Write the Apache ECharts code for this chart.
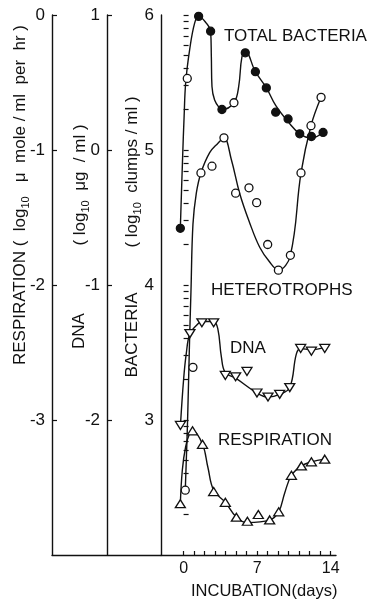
<!DOCTYPE html>
<html><head><meta charset="utf-8">
<script src="https://cdn.jsdelivr.net/npm/echarts@6/dist/echarts.min.js"></script>
<style>html,body{margin:0;padding:0;background:#fff}#c{width:374px;height:604px}</style>
</head><body><div id="c"></div>
<script>
// ---- data (days, log10 values) ----
const xTickDays = [0,1,2,3,4,5,6,7,8,9,10,11,12,13,14];
const xLabelDays = [0,7,14];
const bactLabels = [3,4,5,6];
const dnaLabels = [-2,-1,0,1];
const respLabels = [-3,-2,-1,0];

// Total bacteria (log10 clumps/ml)
const totalFilled = [[-0.31,4.42],[1.43,5.99],[2.57,5.88],[3.65,5.30],[5.87,5.72],[6.83,5.58],[7.87,5.46],[8.76,5.28],[9.94,5.23],[11.05,5.12],[12.16,5.10],[13.27,5.13]];
const totalOpen = [[0.35,5.53],[4.79,5.35]];
const totalCurve = [[-0.31,4.42],[-0.1,4.93],[0.05,5.25],[0.2,5.5],[0.57,5.74],[1.05,5.94],[1.43,5.99],[2.16,5.94],[2.57,5.88],[2.64,5.69],[2.70,5.47],[2.95,5.37],[3.43,5.31],[3.65,5.30],[4.79,5.35],[5.24,5.47],[5.55,5.69],[5.88,5.73],[6.83,5.58],[7.88,5.46],[8.76,5.33],[9.93,5.21],[11.05,5.12],[12.16,5.09],[13.27,5.13]];

// Heterotrophs (log10 clumps/ml)
const hetPoints = [[0.16,2.48],[0.89,3.39],[1.65,4.83],[2.70,4.88],[3.84,5.09],[4.95,4.68],[6.22,4.72],[6.95,4.61],[8.0,4.30],[9.02,4.11],[10.16,4.22],[11.17,4.83],[12.12,5.18],[13.08,5.39]];
const hetCurve = [[0.16,2.48],[0.38,3.0],[0.57,3.6],[0.7,3.95],[0.89,4.45],[1.21,4.68],[1.65,4.83],[2.48,4.98],[3.27,5.05],[3.84,5.09],[4.54,4.93],[5.33,4.68],[6.29,4.46],[7.24,4.28],[8.19,4.17],[9.02,4.11],[10.16,4.22],[11.17,4.83],[12.12,5.18],[13.08,5.39]];

// DNA (log10 ug/ml)
const dnaPoints = [[-0.3,-2.04],[0.6,-1.36],[1.74,-1.28],[2.86,-1.28],[3.97,-1.67],[4.95,-1.68],[6.03,-1.64],[6.98,-1.80],[8.03,-1.83],[9.14,-1.81],[10.1,-1.76],[11.14,-1.47],[12.16,-1.49],[13.43,-1.47]];
const dnaCurve = [[-0.3,-2.04],[0.0,-1.70],[0.25,-1.51],[0.6,-1.36],[1.21,-1.30],[1.74,-1.27],[2.86,-1.27],[3.27,-1.33],[3.59,-1.53],[3.97,-1.65],[4.95,-1.69],[6.98,-1.80],[8.03,-1.83],[9.14,-1.81],[10.1,-1.76],[10.73,-1.51],[11.14,-1.47],[12.16,-1.48],[13.43,-1.46]];

// Respiration (log10 umole/ml per hr)
const respPoints = [[-0.31,-3.62],[0.85,-3.08],[1.8,-3.18],[2.86,-3.53],[3.97,-3.61],[5.02,-3.72],[6.07,-3.75],[7.11,-3.70],[8.19,-3.74],[9.05,-3.68],[10.26,-3.41],[11.21,-3.34],[12.16,-3.31],[13.43,-3.29]];
const respCurve = [[-0.31,-3.62],[-0.12,-3.37],[0.19,-3.20],[0.57,-3.10],[0.85,-3.08],[1.8,-3.18],[2.31,-3.35],[2.86,-3.52],[3.97,-3.61],[5.02,-3.72],[6.07,-3.76],[8.19,-3.74],[9.05,-3.68],[9.62,-3.54],[10.26,-3.41],[11.21,-3.34],[12.16,-3.31],[13.43,-3.29]];

// log minor ticks for bacteria axis (plus the decade ticks)
const bactMinor = [];
[2,3,4,5].forEach(d => { for (let k = 2; k <= 9; k++) bactMinor.push(d + Math.log10(k)); });
const bactTicks = bactMinor.concat(bactLabels);

const FONT = 'Liberation Sans';
const INK = '#111';
const lineSt = () => ({show: true, onZero: false, lineStyle: {color: INK, width: 1.4}});

function yAx(min, max, labels, offset) {
  return {
    type: 'value', gridIndex: 0, position: 'left', offset: offset, min: min, max: max, interval: 1,
    axisLine: lineSt(),
    axisTick: {show: false},
    axisLabel: {show: true, color: INK, fontFamily: FONT, fontSize: 17, margin: 7,
      formatter: v => labels.indexOf(v) >= 0 ? String(v) : ''},
    splitLine: {show: false}
  };
}
function tickAx(min, max, ticks, offset) {
  return {
    type: 'value', gridIndex: 0, position: 'left', offset: offset, min: min, max: max, interval: 1,
    axisLine: {show: false}, axisLabel: {show: false}, splitLine: {show: false},
    axisTick: {show: true, inside: true, length: 5, customValues: ticks, lineStyle: {color: INK, width: 1.2}}
  };
}

const curveLine = (data, yi) => ({
  type: 'line', xAxisIndex: 0, yAxisIndex: yi, data: data, smooth: 0.4, showSymbol: false, silent: true,
  lineStyle: {color: INK, width: 1.4}, z: 2
});
const marks = (data, yi, symbol, size, filled, rotate) => ({
  type: 'scatter', xAxisIndex: 0, yAxisIndex: yi, data: data, symbol: symbol, symbolSize: size,
  symbolRotate: rotate || 0, silent: true, z: 3,
  itemStyle: {color: filled ? INK : '#fff', borderColor: INK, borderWidth: 1.3, opacity: 1}
});

const subRich = {sub: {fontSize: 11, fontFamily: FONT, lineHeight: 12, verticalAlign: 'bottom', fill: INK}, n: {fontSize: 17, fontFamily: FONT, lineHeight: 22, fill: INK}};
function vtext(x, y, txt) {
  return {type: 'text', x: x, y: y, rotation: Math.PI / 2, silent: true,
    style: {text: txt, rich: subRich, fontSize: 17, fontFamily: FONT, fill: INK, align: 'center', verticalAlign: 'middle'}};
}
function htext(x, y, txt, size) {
  return {type: 'text', x: x, y: y, silent: true,
    style: {text: txt, fontSize: size || 17, fontFamily: FONT, fill: INK, align: 'left', verticalAlign: 'middle'}};
}

const chart = echarts.init(document.getElementById('c'), null, {renderer: 'canvas'});
chart.setOption({
  animation: false,
  backgroundColor: '#fff',
  grid: [
    {left: 161, top: 15, width: 175, height: 540, containLabel: false},
    {left: 52, top: 15, width: 109, height: 540, containLabel: false}
  ],
  xAxis: [
    {type: 'value', gridIndex: 0, min: -2.15, max: 14.5,
      axisLine: lineSt(),
      axisTick: {show: true, inside: true, length: 4, customValues: xTickDays, lineStyle: {color: INK, width: 1.2}},
      axisLabel: {show: true, customValues: xLabelDays, color: INK, fontFamily: FONT, fontSize: 16, margin: 6},
      splitLine: {show: false}},
    {type: 'value', gridIndex: 1, min: 0, max: 1, axisLine: lineSt(),
      axisTick: {show: false}, axisLabel: {show: false}, splitLine: {show: false}}
  ],
  yAxis: [
    yAx(2, 6, bactLabels, 0),
    yAx(-3, 1, dnaLabels, 54),
    yAx(-4, 0, respLabels, 109),
    tickAx(2, 6, bactTicks, 0),
    {type: 'value', gridIndex: 1, show: false, min: 0, max: 1},
    tickAx(-3, 1, dnaLabels, 54),
    tickAx(-4, 0, respLabels, 109)
  ],
  series: [
    curveLine(totalCurve, 0),
    curveLine(hetCurve, 0),
    curveLine(dnaCurve, 1),
    curveLine(respCurve, 2),
    marks(totalFilled, 0, 'circle', 8, true),
    marks(totalOpen, 0, 'circle', 8, false),
    marks(hetPoints, 0, 'circle', 8, false),
    marks(dnaPoints, 1, 'triangle', [10, 8], false, 180),
    marks(respPoints, 2, 'triangle', [10, 8], false)
  ],
  graphic: [
    vtext(20, 195, '{n|RESPIRATION (  log}{sub|10}{n|   μ  mole / ml  per  hr )}'),
    vtext(79, 331, '{n|DNA}'),
    vtext(80, 185, '{n|( log}{sub|10}{n|  μg  / ml )}'),
    vtext(132, 335, '{n|BACTERIA}'),
    vtext(132, 172, '{n|( log}{sub|10}{n|  clumps / ml )}'),
    htext(224, 36, 'TOTAL BACTERIA'),
    htext(211, 290, 'HETEROTROPHS'),
    htext(230, 348, 'DNA'),
    htext(218, 440, 'RESPIRATION'),
    htext(191, 591, 'INCUBATION(days)', 16.5)
  ]
});
</script></body></html>
